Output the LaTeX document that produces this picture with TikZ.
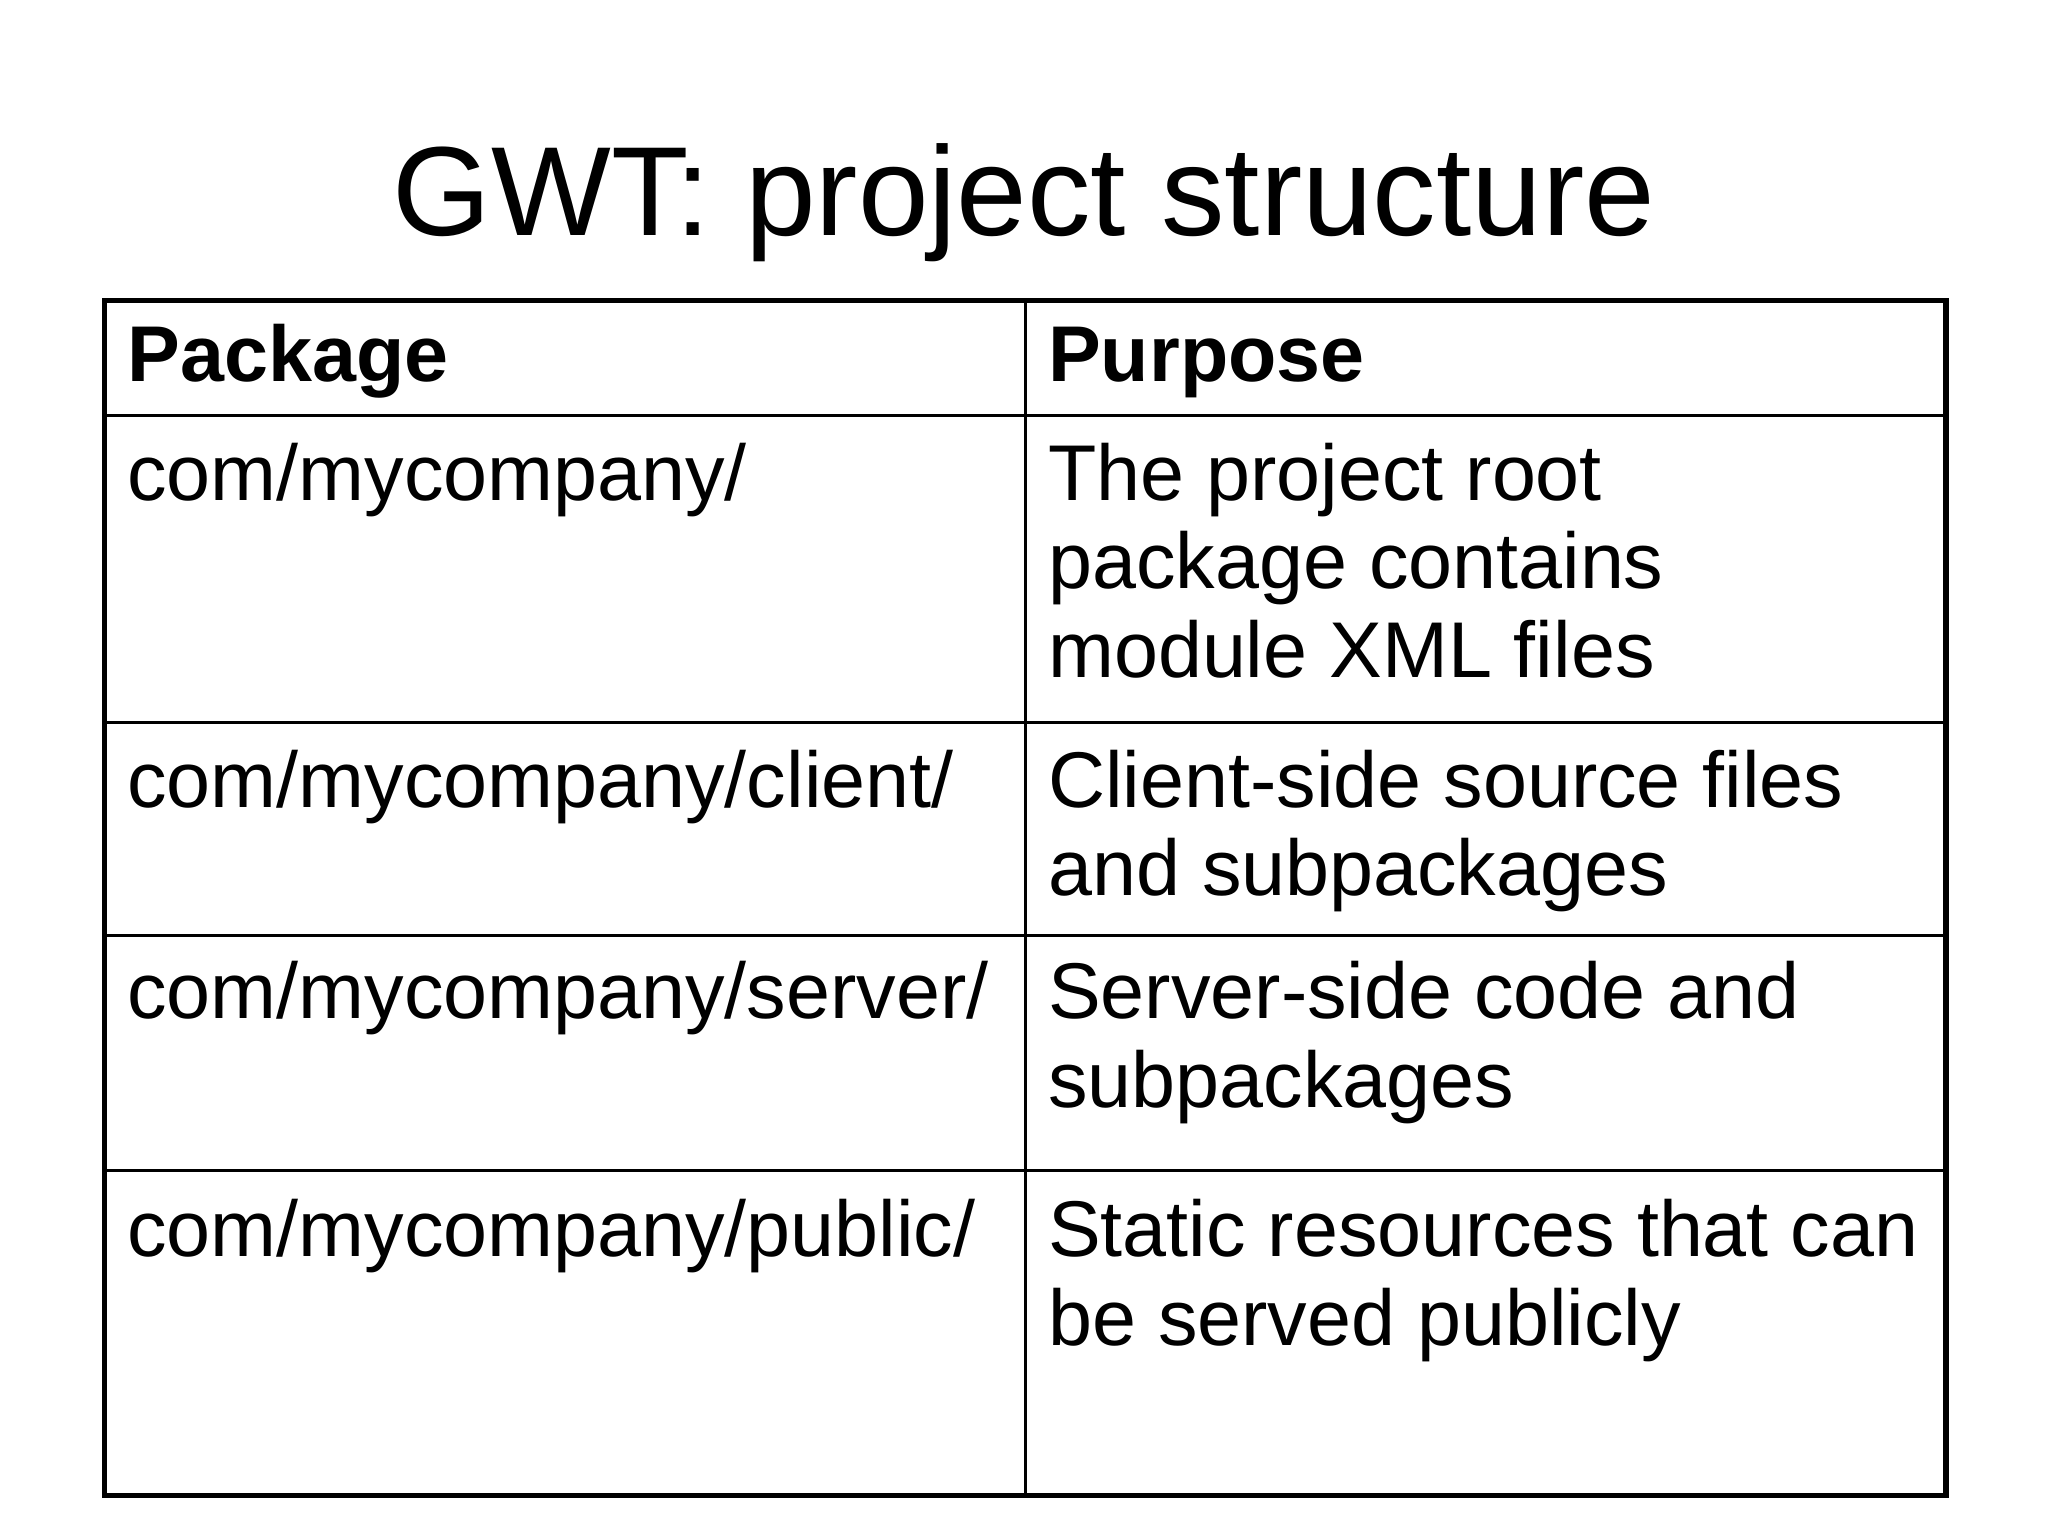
\documentclass[tikz,border=0pt]{standalone}
\usepackage{fontspec}
\setmainfont{Liberation Sans}
\newcommand{\mylines}[1]{\vtop{\baselineskip=25.2pt\halign{##\hfil\cr#1\crcr}}}
\begin{document}
\begin{tikzpicture}[x=0.013061cm,y=-0.013061cm,
  cell/.style={anchor=base west,inner sep=0pt,font=\fontsize{22.5}{25.2}\selectfont},
  head/.style={cell,font=\fontsize{22.5}{25.2}\selectfont\bfseries},
  outer/.style={line width=1.6pt},
  inner/.style={line width=0.8pt}]
\useasboundingbox (0,0) rectangle (1568,1176);
\node[anchor=base,inner sep=0pt,font=\fontsize{36.1}{40}\selectfont] (title) at (784,180) {GWT: project structure};
\draw[inner] (80,318) -- (1490,318) (80,553) -- (1490,553) (80,716) -- (1490,716) (80,896) -- (1490,896);
\draw[inner] (785,230) -- (785,1145);
\draw[outer] (80,230) rectangle (1490,1145);
\node[head] (h1) at (97,292) {Package};
\node[head] (h2) at (802,292) {Purpose};
\node[cell] (p1) at (97,383) {com/mycompany/};
\node[cell] (d1) at (802,383) {\mylines{The project root\cr package contains\cr module XML files}};
\node[cell] (p2) at (97,618) {com/mycompany/client/};
\node[cell] (d2) at (802,618) {\mylines{Client-side source files\cr and subpackages}};
\node[cell] (p3) at (97,780) {com/mycompany/server/};
\node[cell] (d3) at (802,780) {\mylines{Server-side code and\cr subpackages}};
\node[cell] (p4) at (97,962) {com/mycompany/public/};
\node[cell] (d4) at (802,962) {\mylines{Static resources that can\cr be served publicly}};
\end{tikzpicture}
\end{document}
